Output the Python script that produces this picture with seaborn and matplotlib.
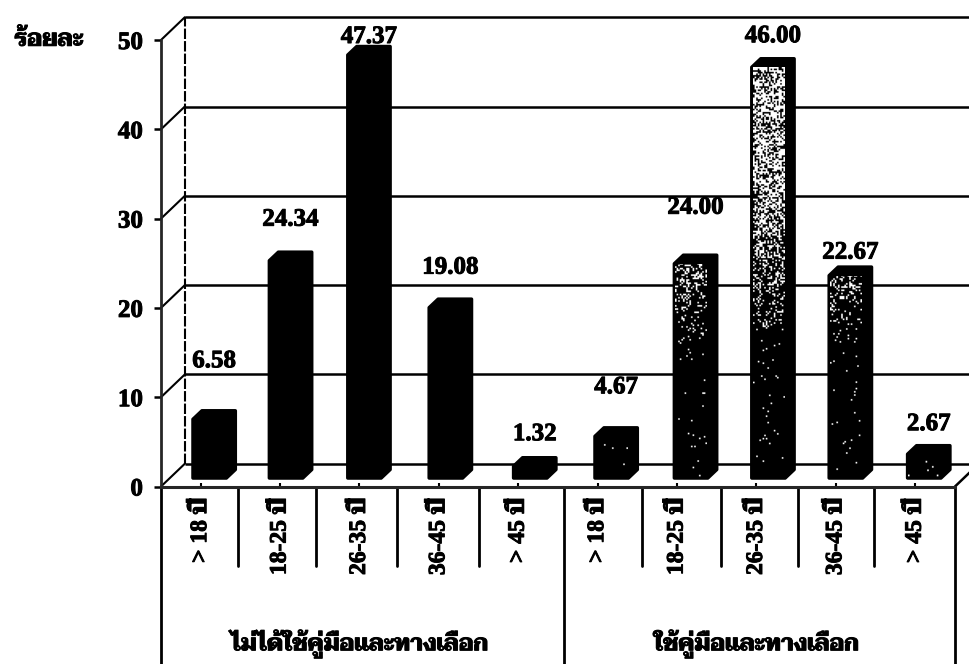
import matplotlib.pyplot as plt
import numpy as np
import pandas as pd
import seaborn as sns
from matplotlib import patheffects as pe
from matplotlib.patches import Polygon

# data
ages = ['> 18 ปี', '18-25 ปี', '26-35 ปี', '36-45 ปี', '> 45 ปี']
groups = ['ไม่ได้ใช้คู่มือและทางเลือก', 'ใช้คู่มือและทางเลือก']
no_manual = [6.58, 24.34, 47.37, 19.08, 1.32]
with_manual = [4.67, 24.00, 46.00, 22.67, 2.67]
y_ticks = [0, 10, 20, 30, 40, 50]
y_title = 'ร้อยละ'

# layout, in pixels: label distance above each bar, and how far the
# scanned original drifts from an even category spacing
label_lift = [50, 33, 10, 32, 24, 41, 48, 23, 15, 22]
bar_drift = [0, -3, -4, -2, 3, 5, 5, 3, 1, 0]
sep_drift = [0, -2, -4, -2, 0, 6, 5, 4, 2, -2, 0]

sns.set_theme(style='white')
fonts = ['Liberation Serif', 'Taviraj', 'DejaVu Sans']
plt.rcParams['font.family'] = fonts
plt.rcParams['font.weight'] = 'bold'
plt.rcParams['text.color'] = 'black'

W, H = 970, 664
x_left, x_right, y_zero, y_top = 161, 955, 486.5, 40
px_x = (x_right - x_left) / 10

df = pd.DataFrame(
    {
        'key': [f'{g}|{a}' for g in groups for a in ages],
        'value': no_manual + with_manual,
    }
)

fig = plt.figure(figsize=(W / 100, H / 100), dpi=100)
ax = fig.add_axes(
    [x_left / W, (H - y_zero) / H, (x_right - x_left) / W, (y_zero - y_top) / H]
)

# depth of the fake 3D box and of the bars
wall_dx, wall_dy = 0.30, 2.55
bar_dx, bar_dy = 0.113, 0.95
bar_shift = 0.113

sns.barplot(
    data=df,
    x='key',
    y='value',
    color='black',
    saturation=1,
    width=0.42,
    bottom=bar_dy,
    edgecolor='black',
    linewidth=1.5,
    zorder=4,
    ax=ax,
)

ax.set_xlim(-0.5, 9.5)
ax.set_ylim(0, 50)

# back wall, floor and side links
ax.hlines(
    np.array(y_ticks) + wall_dy,
    -0.5 + wall_dx,
    10.5,
    color='black',
    lw=1.8,
    zorder=1,
    clip_on=False,
)
for t in y_ticks:
    ax.plot(
        [-0.5, -0.5 + wall_dx], [t, t + wall_dy], color='black', lw=1.5, zorder=1, clip_on=False
    )
ax.plot(
    [9.5, 9.5 + wall_dx], [0, wall_dy], color='black', lw=1.8, zorder=1, clip_on=False
)
ax.plot(
    [-0.5 + wall_dx, -0.5 + wall_dx],
    [wall_dy, 50 + wall_dy],
    color='black',
    lw=1.5,
    ls=(0, (5, 1)),
    zorder=1,
    clip_on=False,
)

stroke = [pe.withStroke(linewidth=0.7, foreground='black')]

# bars: slide the front face, then add top and side around it
n_group = len(ages)
bars = list(ax.patches)
for i, bar in enumerate(bars):
    bar.set_x(bar.get_x() + bar_shift + bar_drift[i] / px_x)
    x0, x1 = bar.get_x(), bar.get_x() + bar.get_width()
    y0, y1 = bar.get_y(), bar.get_y() + bar.get_height()
    ax.add_patch(
        Polygon(
            [
                (x0, y0),
                (x0, y1),
                (x0 + bar_dx, y1 + bar_dy),
                (x1 + bar_dx, y1 + bar_dy),
                (x1 + bar_dx, y0 + bar_dy),
                (x1, y0),
            ],
            closed=True,
            fc='black',
            ec='black',
            lw=2.5,
            joinstyle='round',
            zorder=3,
        )
    )

    # second group has a grainy front face, lighter towards the top
    if i >= n_group:
        rows = max(int((y1 - y0) * 8.92 / 1.6), 1)
        cols = int((x1 - x0) * px_x / 1.6)
        jj, ii = np.meshgrid(np.arange(cols), np.arange(rows))
        grain = (np.sin(ii * 12.9898 + jj * 78.233 + i) * 43758.5453) % 1
        level = np.linspace(y0, y1, rows)[:, None]
        amount = np.clip((level - 15) / 30, 0.015, 0.62)
        texture = (grain < amount).astype(float)
        img = ax.imshow(
            texture,
            cmap='gray',
            vmin=0,
            vmax=1,
            origin='lower',
            aspect='auto',
            extent=(x0 + 0.01, x1 - 0.01, y0, y1),
            interpolation='antialiased',
            zorder=5,
        )
        img.set_clip_path(bar)

    ax.annotate(
        f'{df["value"][i]:.2f}',
        xy=((x0 + x1 + bar_dx) / 2, y1 + bar_dy),
        xytext=(0, label_lift[i] * 0.72),
        textcoords='offset points',
        ha='center',
        va='center',
        fontsize=18,
        zorder=6,
        path_effects=stroke,
    )

ax.set_xlim(-0.5, 9.5)
ax.set_ylim(0, 50)

# axes
sns.despine(ax=ax)
ax.spines['left'].set_linewidth(2)
ax.spines['bottom'].set_linewidth(2.2)
ax.spines['bottom'].set_zorder(2)
ax.set_xlabel('')
ax.set_ylabel('')
ax.set_yticks(y_ticks)
ax.set_yticklabels([str(t) for t in y_ticks], fontsize=18)
ax.tick_params(axis='y', left=True, length=5, width=1.8, pad=8, colors='black')
ax.set_xticks(range(len(bars)))
ax.set_xticklabels(ages * 2, rotation=90, fontsize=17, va='top', ha='center')
ax.tick_params(axis='x', bottom=True, direction='in', length=3, width=1.5, pad=8, colors='black')
for label in ax.get_xticklabels() + ax.get_yticklabels():
    label.set_path_effects(stroke)

# multi level category table under the axis
for i in range(len(bars) + 1):
    outer = i % n_group == 0
    x_sep = i - 0.5 + sep_drift[i] / px_x
    ax.plot(
        [x_sep, x_sep],
        [0, -20 if outer else -8.9],
        color='black',
        lw=2,
        clip_on=False,
    )
for k, g in enumerate(groups):
    ax.text(
        n_group * k + (n_group - 1) / 2,
        -17.6,
        g,
        ha='center',
        va='center',
        fontsize=16.5,
        path_effects=stroke,
    )

fig.text(
    49 / W, (H - 40) / H, y_title, ha='center', va='center', fontsize=17, path_effects=stroke
)

fig.savefig('out.png', dpi=100)
